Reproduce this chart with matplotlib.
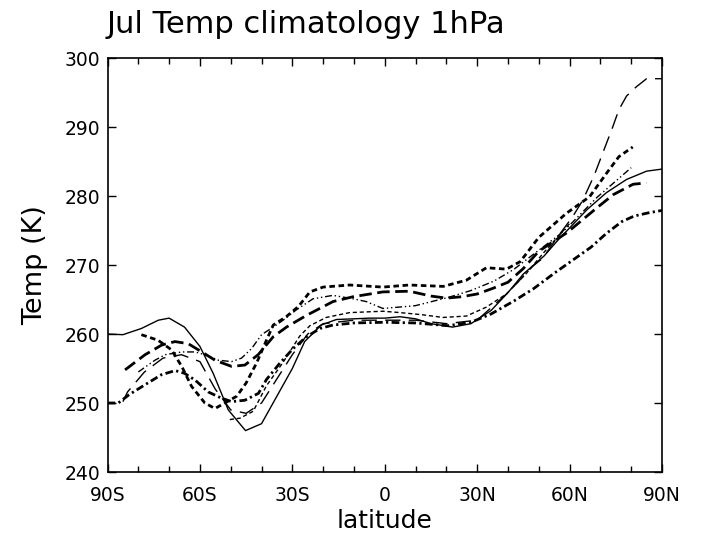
import matplotlib
matplotlib.use("Agg")
import matplotlib.pyplot as plt
from matplotlib.ticker import MultipleLocator

# ---- data (latitude in degrees, temperature in K) ----
solid_lat = [-90,-85,-79,-73.5,-70,-65,-60,-55.7,-50.8,-45.2,-40,-35,-30,-26,-20.6,-15.7,-10,-5,0,5,10,15,22,28,34.5,40,45,51.7,57,59,65.6,72,78.5,85,90]
solid_T = [260,259.9,260.8,262,262.3,261,258.2,254.3,249,246,247,251,255,258.9,261.3,262.1,262.2,262.3,262.3,262.5,262.2,261.5,261,261.5,263.4,266,268.7,271.3,274,274.9,278,280.5,282.4,283.6,283.9]

hdd_lat = [-90,-86.5,-83,-78,-72.5,-68,-65,-61.5,-57.3,-53,-49.7,-45.4,-41,-38.4,-34,-29.7,-25.4,-21,-16.8,-10,0,10,20.6,28,34.5,42,48.4,55,61,67,72,77,81,86,90]
hdd_T = [250,250,251.2,252.6,254.1,254.7,254.3,253.3,251.6,250.7,250.2,250.4,251.4,253.4,255.8,257.9,259.6,260.8,261.3,261.6,261.7,261.6,261.2,261.7,262.9,264.8,266.6,268.8,270.7,272.6,274.6,276.3,277.1,277.6,277.9]

hsd_lat = [-79,-73.6,-69.2,-65.9,-62.7,-58.4,-55.1,-51.9,-48,-45,-41.6,-38.4,-36.2,-32,-28,-24.3,-20,-11.4,-0.6,8,19,26.5,33,39.5,44,50,59,66.5,72,76,80.5]
hsd_T = [259.9,259.1,257.7,255.3,252.4,250,249.2,250,251,252.9,255.8,259.1,261.3,262.5,264,266.1,266.8,267.1,266.8,267.1,266.9,267.8,269.6,269.4,270.5,274,277.5,279.9,283.3,285.7,287.1]

hld_lat = [-84.3,-77.8,-72.4,-68.1,-63.8,-59.4,-55.1,-49.7,-45.4,-41.1,-36.2,-31.9,-25.4,-16.8,-10.3,-0.6,8,15,20,25,30,35,40,45,50,59.2,68.9,74.2,80.6,84.9]
hld_T = [254.8,257,258.4,258.9,258.6,257.4,256.2,255.3,255.5,257,259.6,261,262.7,264.7,265.4,266.1,266.2,265.5,265.2,265.4,265.8,266.6,267.5,269.5,272,274.7,278.3,280.2,281.7,281.9]

tdd_lat = [-80,-74.6,-71.3,-65.9,-61.6,-58.4,-54,-49.7,-46.5,-43.2,-40,-36.2,-33,-28.7,-23.3,-16.8,-10.3,-6,-0.6,9.9,20.6,28,35.6,42,48.4,57,59.2,68.9,80]
tdd_T = [254.5,256.2,257,257.4,257.4,257,256.2,256,256.5,257.9,259.9,261,262,263.5,265.1,265.6,265.1,264.7,263.7,264.1,265.3,266.3,267.7,269.4,271.6,274.5,275.4,279.8,284.1]

tsd_lat = [-50.3,-47,-42.7,-38.4,-33,-27.6,-24.3,-19,-11.4,-0.6,5,12,18.9,26.5,33,39.5,46,52,60]
tsd_T = [247.6,247.8,248.8,252.5,255.9,259.7,261.2,262.4,263.1,263.3,263.1,262.8,262.4,262.6,263.9,265.8,268.8,272,276]

tld_lat = [-85,-83.5,-78,-72,-66,-60,-55,-50,-45,-40,-35,-30,-25,-20,-10,0,10,20,30,40,48,51.3,56,61,64.3,68,71,74,76,78.5,81.6,85,90]
tld_T = [250.2,251.6,254.5,256.5,257,256,252,249,248.5,250,253.5,257,260,261.5,262,262,262,261.5,262,266,269.8,271,274,277,279.4,283,286.5,290,292.5,294.5,295.8,297,297]

xtick_pos = [-90,-60,-30,0,30,60,90]
xtick_lab = ["90S","60S","30S","0","30N","60N","90N"]
ytick_pos = [240,250,260,270,280,290,300]

fig = plt.figure(figsize=(7.02,5.46), dpi=100)
ax = fig.add_axes([107.5/702, 1-472/546, (662-107.5)/702, (472-58)/546])

k = 'black'
ax.plot(solid_lat, solid_T, color=k, lw=1.0)
ax.plot(tld_lat, tld_T, color=k, lw=1.0, dashes=(11,6))
ax.plot(hsd_lat, hsd_T, color=k, lw=2.0, dashes=(2,1.3))
ax.plot(hld_lat, hld_T, color=k, lw=2.0, dashes=(4.5,2))
ax.plot(hdd_lat, hdd_T, color=k, lw=2.0, dashes=(2.8,1.2,0.8,1.2))
ax.plot(tdd_lat, tdd_T, color=k, lw=1.0, dashes=(5,2,1,2,1,2))
ax.plot(tsd_lat, tsd_T, color=k, lw=1.0, dashes=(3,2))

ax.set_xlim(-90,90)
ax.set_ylim(240,300)
ax.set_xticks(xtick_pos)
ax.set_xticklabels(xtick_lab)
ax.set_yticks(ytick_pos)
ax.xaxis.set_minor_locator(MultipleLocator(10))
ax.tick_params(which='both', direction='in', top=True, right=True, labelsize=13.5, width=1, color=k)
ax.tick_params(which='major', length=6)
ax.tick_params(which='minor', length=4)
ax.tick_params(axis='x', pad=10)
ax.tick_params(axis='y', pad=5)
for s in ax.spines.values():
    s.set_linewidth(1.2)

ax.set_xlabel('latitude', fontsize=18, labelpad=3)
ax.set_ylabel('Temp (K)', fontsize=19.5, labelpad=12)
fig.text(107/702, 1-33/546, 'Jul Temp climatology 1hPa', fontsize=22, ha='left', va='baseline')

fig.savefig('out.png', dpi=100)
